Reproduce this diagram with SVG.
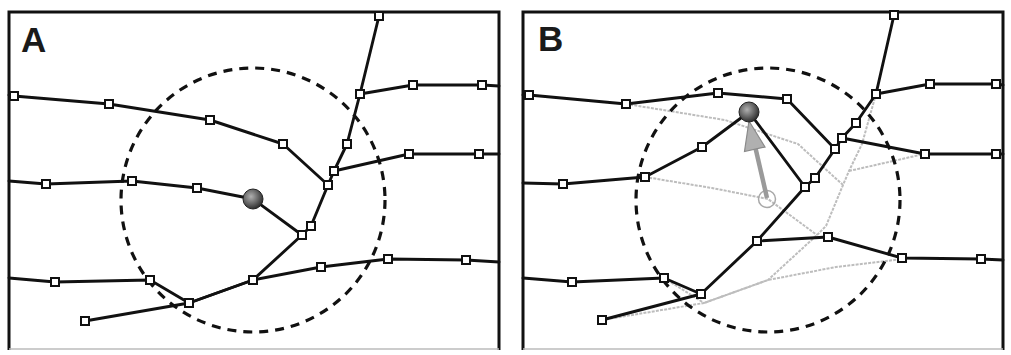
<svg xmlns="http://www.w3.org/2000/svg" xmlns:xlink="http://www.w3.org/1999/xlink" width="1011" height="355" viewBox="0 0 1011 355">
<style>
.frame{fill:none;stroke:#111;stroke-width:3}
.fb{stroke:#bbb;stroke-width:1.5}
.ln{fill:none;stroke:#111;stroke-width:2.9;stroke-linejoin:round;stroke-linecap:round}
.gl{fill:none;stroke:#bdbdbd;stroke-width:2;stroke-dasharray:3 1.2;stroke-linejoin:round}
.dc{fill:none;stroke:#111;stroke-width:3.2;stroke-dasharray:9 7}
.lbl{font-family:"Liberation Sans",Arial,sans-serif;font-weight:bold;font-size:35px;fill:#1a1a1a}
</style>
<defs>
<rect id="sq" x="-4" y="-4" width="8" height="8" fill="#fff" stroke="#111" stroke-width="2"/>
<radialGradient id="ball" cx="0.4" cy="0.38" r="0.65">
<stop offset="0" stop-color="#b0b0b0"/>
<stop offset="0.6" stop-color="#606060"/>
<stop offset="1" stop-color="#2a2a2a"/>
</radialGradient>
</defs>
<rect width="1011" height="355" fill="#fff"/>

<!-- Panel A -->
<g id="panel-a">
<path class="frame" d="M9,350 V12 H499 V350"/>
<line class="fb" x1="9" y1="349" x2="499" y2="349"/>
<text class="lbl" x="21" y="52">A</text>
<circle class="dc" cx="253" cy="200" r="132"/>
<g id="a-connectors">
<polyline class="ln" points="9,95 14,96 109,104 210,120 283,144 328,185"/>
<polyline class="ln" points="379,16 360,94 347,144 334,171 328,185 311,226 302,235 253,280 189,303"/>
<polyline class="ln" points="360,94 413,85 482,85 499,86"/>
<polyline class="ln" points="334,171 409,154 479,154 499,154"/>
<polyline class="ln" points="9,181 46,184 132,181 197,188 253,199 302,235"/>
<polyline class="ln" points="9,278 55,282 150,280 189,303"/>
<polyline class="ln" points="85,321 189,303 253,280 321,267 388,259 466,260 499,262"/>
</g>
<g id="a-ball"><circle cx="253" cy="199" r="10" fill="url(#ball)" stroke="#222" stroke-width="1"/></g>
<g id="a-nodes">
<g id="a-n1"><use xlink:href="#sq" x="14" y="96"/></g>
<g id="a-n2"><use xlink:href="#sq" x="109" y="104"/></g>
<g id="a-n3"><use xlink:href="#sq" x="210" y="120"/></g>
<g id="a-n4"><use xlink:href="#sq" x="283" y="144"/></g>
<g id="a-n5"><use xlink:href="#sq" x="379" y="16"/></g>
<g id="a-n6"><use xlink:href="#sq" x="360" y="94"/></g>
<g id="a-n7"><use xlink:href="#sq" x="347" y="144"/></g>
<g id="a-n8"><use xlink:href="#sq" x="334" y="171"/></g>
<g id="a-n9"><use xlink:href="#sq" x="328" y="185"/></g>
<g id="a-n10"><use xlink:href="#sq" x="311" y="226"/></g>
<g id="a-n11"><use xlink:href="#sq" x="302" y="235"/></g>
<g id="a-n12"><use xlink:href="#sq" x="253" y="280"/></g>
<g id="a-n13"><use xlink:href="#sq" x="189" y="303"/></g>
<g id="a-n14"><use xlink:href="#sq" x="413" y="85"/></g>
<g id="a-n15"><use xlink:href="#sq" x="482" y="85"/></g>
<g id="a-n16"><use xlink:href="#sq" x="409" y="154"/></g>
<g id="a-n17"><use xlink:href="#sq" x="479" y="154"/></g>
<g id="a-n18"><use xlink:href="#sq" x="46" y="184"/></g>
<g id="a-n19"><use xlink:href="#sq" x="132" y="181"/></g>
<g id="a-n20"><use xlink:href="#sq" x="197" y="188"/></g>
<g id="a-n21"><use xlink:href="#sq" x="55" y="282"/></g>
<g id="a-n22"><use xlink:href="#sq" x="150" y="280"/></g>
<g id="a-n23"><use xlink:href="#sq" x="85" y="321"/></g>
<g id="a-n24"><use xlink:href="#sq" x="321" y="267"/></g>
<g id="a-n25"><use xlink:href="#sq" x="388" y="259"/></g>
<g id="a-n26"><use xlink:href="#sq" x="466" y="260"/></g>
</g>
</g>

<!-- Panel B -->
<g id="panel-b">
<path class="frame" d="M523,350 V12 H1003 V350"/>
<line class="fb" x1="523" y1="349" x2="1003" y2="349"/>
<text class="lbl" x="538" y="51">B</text>
<g id="b-old-connectors">
<polyline class="gl" points="626,104 725,120 798,144 843,185"/>
<polyline class="gl" points="876,94 862,144 849,171 843,185 826,226 817,235 768,280 704,303"/>
<polyline class="gl" points="849,171 924,154"/>
<polyline class="gl" points="645,177 712,188 768,199 817,235"/>
<polyline class="gl" points="664,278 704,303"/>
<polyline class="gl" points="602,320 704,303 768,280 836,267 903,259"/>
</g>
<circle class="dc" cx="768" cy="200" r="132"/>
<g id="b-old-ball"><circle cx="767" cy="199" r="8.5" fill="none" stroke="#a8a8a8" stroke-width="1.5"/></g>
<g id="b-move-arrow">
<line x1="767" y1="198" x2="755" y2="146" stroke="#9a9a9a" stroke-width="4.5"/>
<polygon points="749,121 765,147 744.5,151.5" fill="#b0b0b0" stroke="#8a8a8a" stroke-width="1.2"/>
</g>
<g id="b-connectors">
<polyline class="ln" points="523,95 529,95 626,104 718,93 787,99 835,149"/>
<polyline class="ln" points="894,15 876,94 856,123 842,138 835,149 815,178 805,187 757,241 701,294 602,320"/>
<polyline class="ln" points="876,94 930,84 996,84 1003,85"/>
<polyline class="ln" points="842,138 925,154 996,154 1003,154"/>
<polyline class="ln" points="523,183 563,184 645,177 702,147 749,112 805,187"/>
<polyline class="ln" points="523,278 572,282 664,278 701,294"/>
<polyline class="ln" points="757,241 828,237 902,258 981,259 1003,260"/>
</g>
<g id="b-ball"><circle cx="749" cy="112" r="10" fill="url(#ball)" stroke="#222" stroke-width="1"/></g>
<g id="b-nodes">
<g id="b-n1"><use xlink:href="#sq" x="529" y="95"/></g>
<g id="b-n2"><use xlink:href="#sq" x="626" y="104"/></g>
<g id="b-n3"><use xlink:href="#sq" x="718" y="93"/></g>
<g id="b-n4"><use xlink:href="#sq" x="787" y="99"/></g>
<g id="b-n5"><use xlink:href="#sq" x="894" y="15"/></g>
<g id="b-n6"><use xlink:href="#sq" x="876" y="94"/></g>
<g id="b-n7"><use xlink:href="#sq" x="856" y="123"/></g>
<g id="b-n8"><use xlink:href="#sq" x="842" y="138"/></g>
<g id="b-n9"><use xlink:href="#sq" x="835" y="149"/></g>
<g id="b-n10"><use xlink:href="#sq" x="815" y="178"/></g>
<g id="b-n11"><use xlink:href="#sq" x="805" y="187"/></g>
<g id="b-n12"><use xlink:href="#sq" x="757" y="241"/></g>
<g id="b-n13"><use xlink:href="#sq" x="701" y="294"/></g>
<g id="b-n14"><use xlink:href="#sq" x="930" y="84"/></g>
<g id="b-n15"><use xlink:href="#sq" x="996" y="84"/></g>
<g id="b-n16"><use xlink:href="#sq" x="925" y="154"/></g>
<g id="b-n17"><use xlink:href="#sq" x="996" y="154"/></g>
<g id="b-n18"><use xlink:href="#sq" x="563" y="184"/></g>
<g id="b-n19"><use xlink:href="#sq" x="645" y="177"/></g>
<g id="b-n20"><use xlink:href="#sq" x="702" y="147"/></g>
<g id="b-n21"><use xlink:href="#sq" x="572" y="282"/></g>
<g id="b-n22"><use xlink:href="#sq" x="664" y="278"/></g>
<g id="b-n23"><use xlink:href="#sq" x="602" y="320"/></g>
<g id="b-n24"><use xlink:href="#sq" x="828" y="237"/></g>
<g id="b-n25"><use xlink:href="#sq" x="902" y="258"/></g>
<g id="b-n26"><use xlink:href="#sq" x="981" y="259"/></g>
</g>
</g>
</svg>
